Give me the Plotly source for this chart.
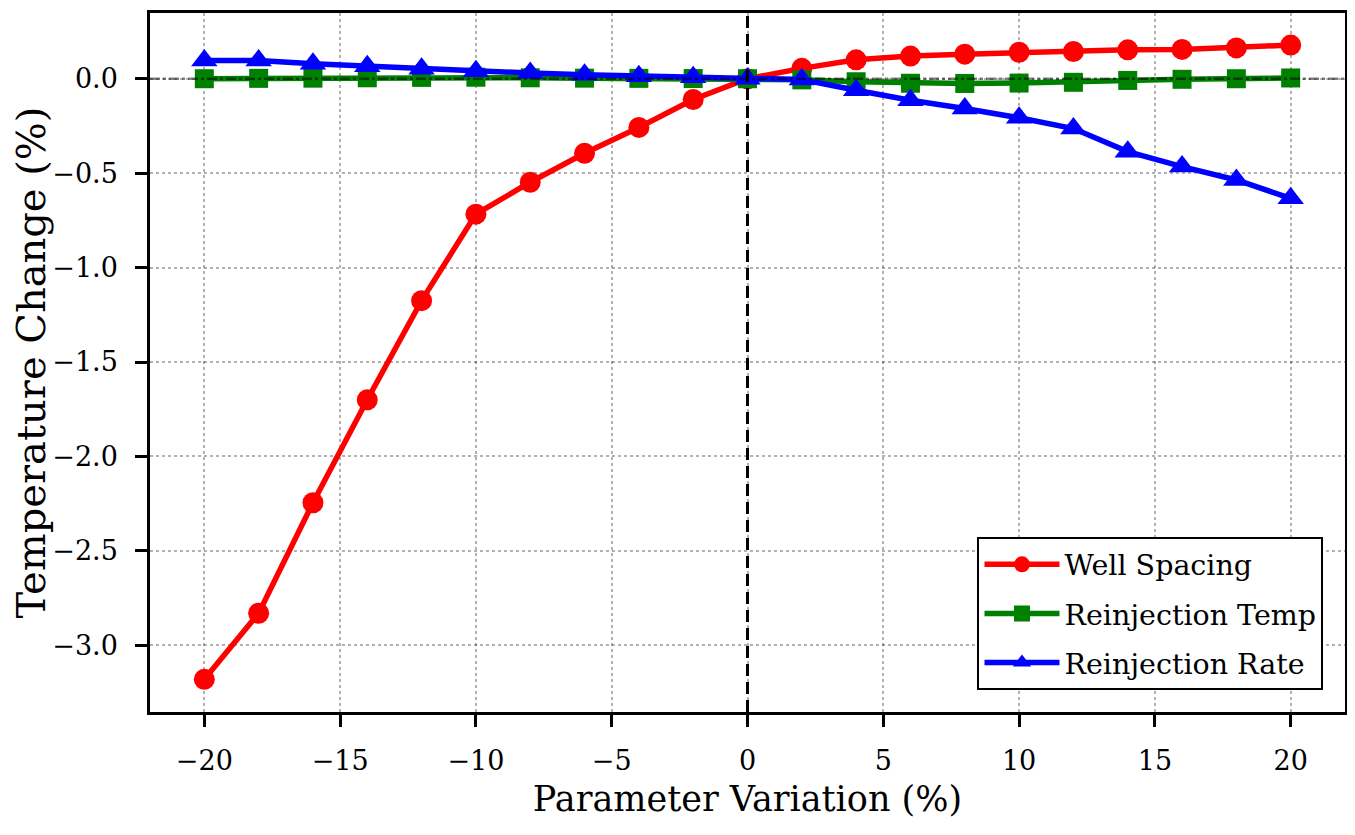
import plotly.graph_objects as go

# Parameter variation (%)
variation = [-20, -18, -16, -14, -12, -10, -8, -6, -4, -2, 0,
             2, 4, 6, 8, 10, 12, 14, 16, 18, 20]

# Temperature change (%) per parameter
well_spacing = [-3.18, -2.83, -2.245, -1.70, -1.175, -0.717, -0.548, -0.395, -0.258, -0.11, 0.0,
                0.055, 0.10, 0.12, 0.13, 0.14, 0.144, 0.153, 0.155, 0.163, 0.178]
reinj_temp = [0.0, 0.002, 0.003, 0.005, 0.007, 0.008, 0.005, 0.003, 0.002, 0.001, 0.0,
              -0.006, -0.016, -0.024, -0.025, -0.023, -0.019, -0.009, -0.003, 0.0, 0.004]
reinj_rate = [0.097, 0.097, 0.079, 0.066, 0.053, 0.039, 0.030, 0.021, 0.013, 0.008, 0.0,
              -0.004, -0.061, -0.114, -0.158, -0.207, -0.264, -0.386, -0.465, -0.536, -0.633]

series = [
    ("Well Spacing", well_spacing, "red", "circle", 21),
    ("Reinjection Temp", reinj_temp, "green", "square", 19),
    ("Reinjection Rate", reinj_rate, "blue", "triangle-up", 23),
]

FONT = "DejaVu Serif"

fig = go.Figure()
for name, vals, color, symbol, msize in series:
    fig.add_trace(go.Scatter(
        x=variation, y=vals, name=name, mode="lines+markers",
        line=dict(color=color, width=5.5),
        marker=dict(symbol=symbol, size=msize, color=color),
        legendgroup=name,  # separate groups so tracegroupgap spaces the rows
    ))

# reference lines at zero
fig.add_hline(y=0, line=dict(color="rgba(0,0,0,0.5)", width=2.5, dash="10px,3px,3px,3px"), layer="above")
fig.add_vline(x=0, line=dict(color="black", width=3, dash="12px,6px"), layer="above")

tick_font = dict(family=FONT, size=27, color="black")
for upd in (fig.update_xaxes, fig.update_yaxes):
    upd(showline=True, linecolor="black", linewidth=2.5, mirror=True,
        ticks="outside", ticklen=12, tickwidth=2.5, tickcolor="black",
        showgrid=True, gridcolor="rgba(0,0,0,0.3)", gridwidth=2, griddash="dot",
        zeroline=False, tickfont=tick_font)

fig.update_xaxes(range=[-22, 22], dtick=5, ticklabelstandoff=11,
                 title=dict(text="Parameter Variation (%)",
                            font=dict(family=FONT, size=35, color="black"), standoff=12))
fig.update_yaxes(range=[-3.353, 0.348], dtick=0.5, tickformat=".1f", ticklabelstandoff=12,
                 title=dict(text="Temperature Change (%)",
                            font=dict(family=FONT, size=40, color="black"), standoff=12))

# page body has an 8px margin, so the figure is shrunk and shifted to fit the window
fig.update_layout(
    width=1347, height=827,
    margin=dict(l=142, r=10, t=2, b=123),
    plot_bgcolor="white", paper_bgcolor="white",
    font=dict(family=FONT, color="black"),
    legend=dict(x=0.982, y=0.031, xanchor="right", yanchor="bottom",
                bordercolor="black", borderwidth=2, bgcolor="white",
                font=dict(family=FONT, size=28.5, color="black"),
                itemwidth=75, tracegroupgap=9),
    showlegend=True,
)

fig.write_html("out.html")
